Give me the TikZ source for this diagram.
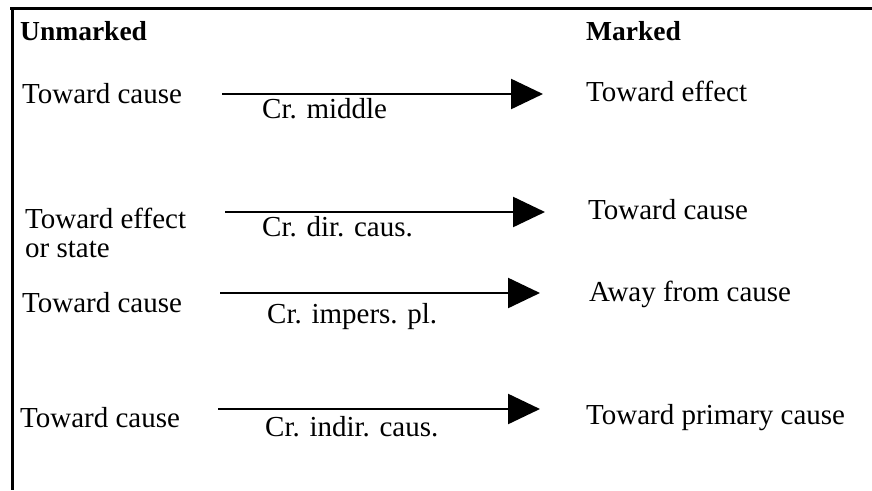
\documentclass[tikz,border=0pt]{standalone}
\usepackage{fontspec}
\setmainfont{Liberation Serif}
\usetikzlibrary{arrows.meta}
\tikzset{
	lbl/.style={anchor=base west,inner sep=0pt,font=\fontsize{29}{32}\selectfont},
	head/.style={lbl,font=\fontsize{27.5}{32}\selectfont\bfseries},
	causarrow/.style={line width=2.4pt,-{Triangle[length=32pt,width=30pt]}},
	frame/.style={line width=3pt}
}
\begin{document}
\begin{tikzpicture}[x=1pt,y=-1pt]
			\useasboundingbox (0,0) rectangle (872,490);
			\draw[frame] (10,8) -- (872,8);
			\draw[frame] (12,8) -- (12,490);

			\node[head] (unm) at (20,40) {Unmarked};
			\node[head] (mrk) at (586,40) {Marked};

			\node[lbl] (l1) at (22,103) {Toward cause};
			\node[lbl] (l2) at (25,228) {Toward effect};
			\node[lbl] (l2b) at (25,257) {or state};
			\node[lbl] (l3) at (22,312) {Toward cause};
			\node[lbl] (l4) at (20,427) {Toward cause};

			\node[lbl] (r1) at (586,101) {Toward effect};
			\node[lbl] (r2) at (588,219) {Toward cause};
			\node[lbl] (r3) at (589,301) {Away from cause};
			\node[lbl] (r4) at (586,424) {Toward primary cause};

			\node[lbl] (c1) at (262,118) {Cr. middle};
			\node[lbl] (c2) at (262,236) {Cr. dir. caus.};
			\node[lbl] (c3) at (267,323) {Cr. impers. pl.};
			\node[lbl] (c4) at (265,436) {Cr. indir. caus.};

			\coordinate (a1s) at (222,94);  \coordinate (a1e) at (543,94);
			\coordinate (a2s) at (225,212); \coordinate (a2e) at (545,212);
			\coordinate (a3s) at (220,293); \coordinate (a3e) at (540,293);
			\coordinate (a4s) at (218,409); \coordinate (a4e) at (540,409);

			\draw[causarrow] (a1s) -- (a1e);
			\draw[causarrow] (a2s) -- (a2e);
			\draw[causarrow] (a3s) -- (a3e);
			\draw[causarrow] (a4s) -- (a4e);
		\end{tikzpicture}
\end{document}
